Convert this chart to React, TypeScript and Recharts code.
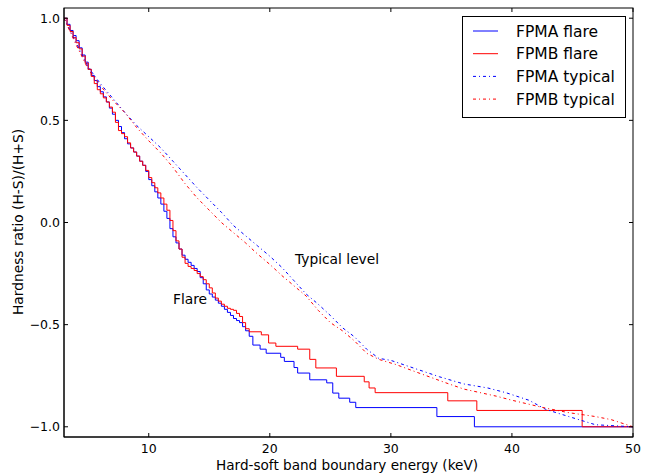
import React from "react";
import { LineChart, Line, XAxis, YAxis } from "recharts";

document.body.style.margin = "0";

// Flare curves (stepped), x in keV
const flareAX = [3, 3.25, 3.5, 3.75, 4, 4.25, 4.5, 4.75, 5, 5.25, 5.5, 5.75, 6, 6.25, 6.5, 6.75, 7, 7.25, 7.5, 7.75, 8, 8.25, 8.5, 8.75, 9, 9.25, 9.5, 9.75, 10, 10.25, 10.5, 10.75, 11, 11.25, 11.5, 11.75, 12, 12.25, 12.5, 12.75, 13, 13.25, 13.5, 13.75, 14, 14.25, 14.5, 14.75, 15, 15.25, 15.5, 15.75, 16, 16.25, 16.5, 16.75, 17, 17.25, 17.5, 17.75, 18, 18.3, 18.6, 19.2, 19.7, 20.9, 21.2, 22.0, 22.3, 23.3, 24.7, 25.2, 25.7, 26.6, 27.1, 33.8, 36.9, 50];
const flareAY = [1.0, 0.97, 0.94, 0.915, 0.89, 0.855, 0.82, 0.785, 0.75, 0.72, 0.695, 0.665, 0.64, 0.615, 0.59, 0.56, 0.53, 0.5, 0.47, 0.44, 0.41, 0.385, 0.365, 0.345, 0.325, 0.3, 0.28, 0.25, 0.21, 0.18, 0.15, 0.12, 0.09, 0.055, 0.02, -0.03, -0.07, -0.1, -0.13, -0.16, -0.18, -0.195, -0.21, -0.225, -0.24, -0.27, -0.3, -0.33, -0.35, -0.365, -0.38, -0.395, -0.41, -0.425, -0.44, -0.455, -0.47, -0.48, -0.49, -0.51, -0.53, -0.557, -0.6, -0.62, -0.64, -0.66, -0.68, -0.71, -0.737, -0.77, -0.785, -0.835, -0.86, -0.88, -0.906, -0.95, -1.0, -1.0];

const flareBX = [3, 3.25, 3.5, 3.75, 4, 4.25, 4.5, 4.75, 5, 5.25, 5.5, 5.75, 6, 6.25, 6.5, 6.75, 7, 7.25, 7.5, 7.75, 8, 8.25, 8.5, 8.75, 9, 9.25, 9.5, 9.75, 10, 10.25, 10.5, 10.75, 11, 11.25, 11.5, 11.75, 12, 12.25, 12.5, 12.75, 13, 13.25, 13.5, 13.75, 14, 14.25, 14.5, 14.75, 15, 15.25, 15.5, 15.75, 16, 16.25, 16.5, 16.75, 17, 17.25, 17.5, 17.75, 18, 18.3, 19.3, 19.9, 20.5, 22.3, 23.3, 23.8, 25.5, 27.8, 28.2, 28.7, 34.7, 37.1, 45.8, 50];
const flareBY = [1.0, 0.965, 0.935, 0.905, 0.88, 0.85, 0.815, 0.78, 0.75, 0.715, 0.68, 0.65, 0.63, 0.61, 0.59, 0.565, 0.54, 0.49, 0.45, 0.435, 0.42, 0.39, 0.365, 0.345, 0.325, 0.3, 0.28, 0.255, 0.22, 0.195, 0.17, 0.145, 0.12, 0.09, 0.06, 0.01, -0.04, -0.09, -0.13, -0.17, -0.2, -0.215, -0.225, -0.235, -0.25, -0.265, -0.28, -0.3, -0.32, -0.345, -0.37, -0.385, -0.4, -0.41, -0.42, -0.425, -0.43, -0.445, -0.46, -0.49, -0.52, -0.535, -0.55, -0.59, -0.606, -0.62, -0.67, -0.712, -0.753, -0.78, -0.81, -0.833, -0.873, -0.92, -1.0, -1.0];

// Typical-level curves
const typicalAX = [3, 4, 5, 5.5, 6, 7, 8, 9, 10, 11, 12, 13, 14, 15, 16, 17, 18, 19, 20, 21, 22, 23, 24, 25, 26, 27, 28, 29, 30, 32, 34, 36, 38, 39.5, 41.4, 42.8, 44.7, 46.9, 50];
const typicalAY = [1.0, 0.88, 0.76, 0.72, 0.68, 0.61, 0.54, 0.475, 0.42, 0.365, 0.3, 0.235, 0.17, 0.11, 0.05, -0.015, -0.065, -0.115, -0.165, -0.22, -0.285, -0.35, -0.4, -0.455, -0.515, -0.56, -0.62, -0.665, -0.675, -0.715, -0.755, -0.79, -0.81, -0.833, -0.87, -0.915, -0.95, -0.99, -1.0];

const typicalBX = [3, 4, 5, 6, 7, 8, 9, 10, 11, 12, 13, 14, 15, 16, 17, 18, 19, 20, 21, 22, 23, 24, 25, 26, 27, 28, 29, 30.4, 32, 34.5, 36, 38.7, 40, 42.5, 44.6, 46.9, 48.2, 50];
const typicalBY = [1.0, 0.87, 0.75, 0.67, 0.6, 0.54, 0.465, 0.4, 0.34, 0.27, 0.19, 0.12, 0.06, 0.0, -0.05, -0.1, -0.155, -0.205, -0.26, -0.31, -0.36, -0.43, -0.49, -0.53, -0.58, -0.64, -0.67, -0.695, -0.73, -0.784, -0.815, -0.85, -0.87, -0.905, -0.93, -0.95, -0.965, -1.0];

const xTicks = [10, 20, 30, 40, 50];
const yTicks = [-1.0, -0.5, 0.0, 0.5, 1.0];

const DASH_DOT = "3 3 1 3";
const legendItems = [
  { name: "FPMA flare", color: "#0000ff", dash: undefined },
  { name: "FPMB flare", color: "#ff0000", dash: undefined },
  { name: "FPMA typical", color: "#0000ff", dash: DASH_DOT },
  { name: "FPMB typical", color: "#ff0000", dash: DASH_DOT },
];

const zip = (xs: number[], ys: number[]) => xs.map((x, i) => ({ x, y: ys[i] }));

const FONT = "DejaVu Sans, sans-serif";
const LEFT = 64;
const RIGHT = 633;
const TOP = 8;
const BOTTOM = 437;

const fmtY = (v: number) => (v < 0 ? "\u2212" + Math.abs(v).toFixed(1) : v.toFixed(1));

// ticks point inward, matplotlib style, mirrored on top / right
const BottomTick = ({ x, payload }: any) => (
  <g>
    <line x1={x} x2={x} y1={BOTTOM} y2={BOTTOM - 4} stroke="#000" />
    <line x1={x} x2={x} y1={TOP} y2={TOP + 4} stroke="#000" />
    <text x={x} y={453} textAnchor="middle" fontSize={12.5} fontFamily={FONT} fill="#000">
      {payload.value}
    </text>
  </g>
);

const LeftTick = ({ y, payload }: any) => (
  <g>
    <line x1={LEFT} x2={LEFT + 4} y1={y} y2={y} stroke="#000" />
    <line x1={RIGHT} x2={RIGHT - 4} y1={y} y2={y} stroke="#000" />
    <text x={60} y={y + 4.5} textAnchor="end" fontSize={12.5} fontFamily={FONT} fill="#000">
      {fmtY(payload.value)}
    </text>
  </g>
);

export default function App() {
  return (
    <div style={{ position: "relative", width: 650, height: 473, background: "#fff" }}>
      <LineChart width={650} height={473} margin={{ top: TOP, right: 650 - RIGHT, bottom: 0, left: 0 }}>
        <XAxis
          type="number"
          dataKey="x"
          domain={[3, 50]}
          ticks={xTicks}
          allowDataOverflow
          height={473 - BOTTOM}
          tickLine={false}
          tick={<BottomTick />}
          axisLine={{ stroke: "#000" }}
        />
        <YAxis
          type="number"
          domain={[-1.05, 1.05]}
          ticks={yTicks}
          allowDataOverflow
          width={LEFT}
          tickLine={false}
          tick={<LeftTick />}
          axisLine={{ stroke: "#000" }}
        />
        <Line data={zip(flareAX, flareAY)} dataKey="y" type="stepAfter" stroke="#0000ff" strokeWidth={1} dot={false} isAnimationActive={false} />
        <Line data={zip(flareBX, flareBY)} dataKey="y" type="stepAfter" stroke="#ff0000" strokeWidth={1} dot={false} isAnimationActive={false} />
        <Line data={zip(typicalAX, typicalAY)} dataKey="y" type="linear" stroke="#0000ff" strokeWidth={1} strokeDasharray={DASH_DOT} dot={false} isAnimationActive={false} />
        <Line data={zip(typicalBX, typicalBY)} dataKey="y" type="linear" stroke="#ff0000" strokeWidth={1} strokeDasharray={DASH_DOT} dot={false} isAnimationActive={false} />
      </LineChart>
      <svg
        width={650}
        height={473}
        style={{ position: "absolute", left: 0, top: 0, pointerEvents: "none" }}
      >
        <rect x={LEFT} y={TOP} width={RIGHT - LEFT} height={BOTTOM - TOP} fill="none" stroke="#000" />
        <g transform="translate(462,16)">
          <rect x={0.5} y={0.5} width={163} height={101} fill="#fff" stroke="#000" />
          {legendItems.map((it, i) => {
            const cy = 15 + i * 22.7;
            return (
              <g key={it.name}>
                <line x1={11} x2={36} y1={cy} y2={cy} stroke={it.color} strokeDasharray={it.dash} />
                <text x={54} y={cy + 5.5} fontSize={15.5} fontFamily={FONT} fill="#000">
                  {it.name}
                </text>
              </g>
            );
          })}
        </g>
        <text x={347} y={470} textAnchor="middle" fontSize={13.6} fontFamily={FONT} fill="#000">
          Hard-soft band boundary energy (keV)
        </text>
        <text
          x={23}
          y={222}
          textAnchor="middle"
          fontSize={13.8}
          fontFamily={FONT}
          fill="#000"
          transform="rotate(-90 23 222)"
        >
          Hardness ratio (H-S)/(H+S)
        </text>
        <text x={295} y={264} fontSize={13.8} fontFamily={FONT} fill="#000">
          Typical level
        </text>
        <text x={173} y={304} fontSize={13.8} fontFamily={FONT} fill="#000">
          Flare
        </text>
      </svg>
    </div>
  );
}
